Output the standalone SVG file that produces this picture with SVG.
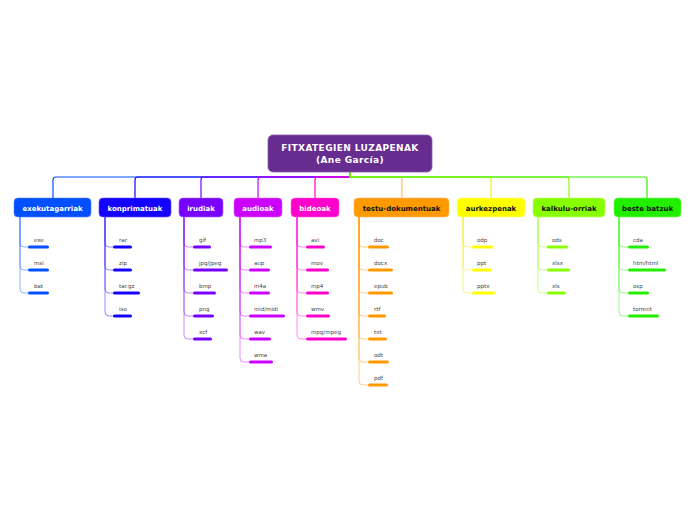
<svg xmlns="http://www.w3.org/2000/svg" width="696" height="520" viewBox="0 0 696 520">
<style>
.nt{font-family:"DejaVu Sans",Verdana,sans-serif;font-weight:bold;font-size:7px;text-anchor:middle}
.rt{font-family:"DejaVu Sans",Verdana,sans-serif;font-weight:bold;font-size:9px;letter-spacing:0.4px;text-anchor:middle;fill:#fff}
.lt{font-family:"DejaVu Sans",Verdana,sans-serif;font-size:5.5px;fill:#444}
.c{fill:none;stroke-width:1.2}
.lc{fill:none;stroke-width:1;stroke-opacity:0.45}
</style>
<rect width="696" height="520" fill="#fff"/>
<g id="connectors">
<path class="c" stroke="#0050ff" d="M350,172 V177 H56 Q53,177 53,180 V198"/>
<path class="c" stroke="#1400ff" d="M350,172 V177 H138 Q135,177 135,180 V198"/>
<path class="c" stroke="#7700ff" d="M350,172 V177 H204 Q201,177 201,180 V198"/>
<path class="c" stroke="#cc00ff" d="M350,172 V177 H261 Q258,177 258,180 V198"/>
<path class="c" stroke="#ff00cc" d="M350,172 V177 H318 Q315,177 315,180 V198"/>
<path class="c" stroke="#ffbb66" d="M350,172 V177 H399 Q402,177 402,180 V198"/>
<path class="c" stroke="#eeee22" d="M350,172 V177 H488 Q491,177 491,180 V198"/>
<path class="c" stroke="#88ff00" d="M350,172 V177 H566 Q569,177 569,180 V198"/>
<path class="c" stroke="#33ee00" d="M350,172 V177 H644 Q647,177 647,180 V198"/>
<path class="lc" stroke="#0050ff" d="M20,217 V243 Q20,247 24,247 H28 M20,217 V266 Q20,270 24,270 H28 M20,217 V289 Q20,293 24,293 H28"/>
<path class="lc" stroke="#1400ff" d="M105,217 V243 Q105,247 109,247 H113 M105,217 V266 Q105,270 109,270 H113 M105,217 V289 Q105,293 109,293 H113 M105,217 V312 Q105,316 109,316 H113"/>
<path class="lc" stroke="#7700ff" d="M184,217 V243 Q184,247 188,247 H193 M184,217 V266 Q184,270 188,270 H193 M184,217 V289 Q184,293 188,293 H193 M184,217 V312 Q184,316 188,316 H193 M184,217 V335 Q184,339 188,339 H193"/>
<path class="lc" stroke="#cc00ff" d="M240,217 V243 Q240,247 244,247 H249 M240,217 V266 Q240,270 244,270 H249 M240,217 V289 Q240,293 244,293 H249 M240,217 V312 Q240,316 244,316 H249 M240,217 V335 Q240,339 244,339 H249 M240,217 V358 Q240,362 244,362 H249"/>
<path class="lc" stroke="#ff00cc" d="M297,217 V243 Q297,247 301,247 H306 M297,217 V266 Q297,270 301,270 H306 M297,217 V289 Q297,293 301,293 H306 M297,217 V312 Q297,316 301,316 H306 M297,217 V335 Q297,339 301,339 H306"/>
<path class="lc" stroke="#ff9900" d="M359,217 V243 Q359,247 363,247 H368 M359,217 V266 Q359,270 363,270 H368 M359,217 V289 Q359,293 363,293 H368 M359,217 V312 Q359,316 363,316 H368 M359,217 V335 Q359,339 363,339 H368 M359,217 V358 Q359,362 363,362 H368 M359,217 V381 Q359,385 363,385 H368"/>
<path class="lc" stroke="#e6e600" d="M463,217 V243 Q463,247 467,247 H472 M463,217 V266 Q463,270 467,270 H472 M463,217 V289 Q463,293 467,293 H472"/>
<path class="lc" stroke="#88ff00" d="M538,217 V243 Q538,247 542,247 H547 M538,217 V266 Q538,270 542,270 H547 M538,217 V289 Q538,293 542,293 H547"/>
<path class="lc" stroke="#22ee00" d="M619,217 V243 Q619,247 623,247 H628 M619,217 V266 Q619,270 623,270 H628 M619,217 V289 Q619,293 623,293 H628 M619,217 V312 Q619,316 623,316 H628"/>
</g>
<g id="root">
<rect x="268" y="135" width="164" height="37" rx="5" fill="#672c8f" stroke="#8a5aae" stroke-width="0.8"/>
<text class="rt" x="350" y="151">FITXATEGIEN LUZAPENAK</text>
<text class="rt" x="350" y="163">(Ane García)</text>
</g>
<g id="exekutagarriak">
<rect x="14" y="198" width="77" height="19" rx="4" fill="#0050ff" stroke="#5588ff" stroke-width="0.6"/>
<text class="nt" x="52.5" y="210.5" fill="#fff">exekutagarriak</text>
<rect x="28" y="245.5" width="21" height="3" rx="1.5" fill="#0050ff"/><text class="lt" x="34" y="242">exe</text>
<rect x="28" y="268.5" width="21" height="3" rx="1.5" fill="#0050ff"/><text class="lt" x="34" y="265">msi</text>
<rect x="28" y="291.5" width="21" height="3" rx="1.5" fill="#0050ff"/><text class="lt" x="34" y="288">bat</text>
</g>
<g id="konprimatuak">
<rect x="99" y="198" width="72" height="19" rx="4" fill="#1400ff" stroke="#6655ff" stroke-width="0.6"/>
<text class="nt" x="135" y="210.5" fill="#fff">konprimatuak</text>
<rect x="113" y="245.5" width="19" height="3" rx="1.5" fill="#1400ff"/><text class="lt" x="119" y="242">rar</text>
<rect x="113" y="268.5" width="19" height="3" rx="1.5" fill="#1400ff"/><text class="lt" x="119" y="265">zip</text>
<rect x="113" y="291.5" width="27" height="3" rx="1.5" fill="#1400ff"/><text class="lt" x="119" y="288">tar.gz</text>
<rect x="113" y="314.5" width="19" height="3" rx="1.5" fill="#1400ff"/><text class="lt" x="119" y="311">iso</text>
</g>
<g id="irudiak">
<rect x="179" y="198" width="44" height="19" rx="4" fill="#7700ff" stroke="#a766ff" stroke-width="0.6"/>
<text class="nt" x="201" y="210.5" fill="#fff">irudiak</text>
<rect x="193" y="245.5" width="18" height="3" rx="1.5" fill="#7700ff"/><text class="lt" x="199" y="242">gif</text>
<rect x="193" y="268.5" width="35" height="3" rx="1.5" fill="#7700ff"/><text class="lt" x="199" y="265">jpg/jpeg</text>
<rect x="193" y="291.5" width="23" height="3" rx="1.5" fill="#7700ff"/><text class="lt" x="199" y="288">bmp</text>
<rect x="193" y="314.5" width="21" height="3" rx="1.5" fill="#7700ff"/><text class="lt" x="199" y="311">png</text>
<rect x="193" y="337.5" width="19" height="3" rx="1.5" fill="#7700ff"/><text class="lt" x="199" y="334">xcf</text>
</g>
<g id="audioak">
<rect x="234" y="198" width="48" height="19" rx="4" fill="#cc00ff" stroke="#dd66ff" stroke-width="0.6"/>
<text class="nt" x="258" y="210.5" fill="#fff">audioak</text>
<rect x="249" y="245.5" width="23" height="3" rx="1.5" fill="#cc00ff"/><text class="lt" x="254" y="242">mp3</text>
<rect x="249" y="268.5" width="21" height="3" rx="1.5" fill="#cc00ff"/><text class="lt" x="254" y="265">aup</text>
<rect x="249" y="291.5" width="21" height="3" rx="1.5" fill="#cc00ff"/><text class="lt" x="254" y="288">m4a</text>
<rect x="249" y="314.5" width="36" height="3" rx="1.5" fill="#cc00ff"/><text class="lt" x="254" y="311">mid/midi</text>
<rect x="249" y="337.5" width="22" height="3" rx="1.5" fill="#cc00ff"/><text class="lt" x="254" y="334">wav</text>
<rect x="249" y="360.5" width="24" height="3" rx="1.5" fill="#cc00ff"/><text class="lt" x="254" y="357">wma</text>
</g>
<g id="bideoak">
<rect x="291" y="198" width="48" height="19" rx="4" fill="#ff00cc" stroke="#ff66dd" stroke-width="0.6"/>
<text class="nt" x="315" y="210.5" fill="#fff">bideoak</text>
<rect x="306" y="245.5" width="19" height="3" rx="1.5" fill="#ff00cc"/><text class="lt" x="311" y="242">avi</text>
<rect x="306" y="268.5" width="23" height="3" rx="1.5" fill="#ff00cc"/><text class="lt" x="311" y="265">mov</text>
<rect x="306" y="291.5" width="23" height="3" rx="1.5" fill="#ff00cc"/><text class="lt" x="311" y="288">mp4</text>
<rect x="306" y="314.5" width="24" height="3" rx="1.5" fill="#ff00cc"/><text class="lt" x="311" y="311">wmv</text>
<rect x="306" y="337.5" width="41" height="3" rx="1.5" fill="#ff00cc"/><text class="lt" x="311" y="334">mpg/mpeg</text>
</g>
<g id="testu-dokumentuak">
<rect x="354" y="198" width="95" height="19" rx="4" fill="#ff9900" stroke="#ffbb66" stroke-width="0.6"/>
<text class="nt" x="401.5" y="210.5" fill="#111">testu-dokumentuak</text>
<rect x="368" y="245.5" width="21" height="3" rx="1.5" fill="#ff9900"/><text class="lt" x="374" y="242">doc</text>
<rect x="368" y="268.5" width="25" height="3" rx="1.5" fill="#ff9900"/><text class="lt" x="374" y="265">docx</text>
<rect x="368" y="291.5" width="25" height="3" rx="1.5" fill="#ff9900"/><text class="lt" x="374" y="288">epub</text>
<rect x="368" y="314.5" width="18" height="3" rx="1.5" fill="#ff9900"/><text class="lt" x="374" y="311">rtf</text>
<rect x="368" y="337.5" width="19" height="3" rx="1.5" fill="#ff9900"/><text class="lt" x="374" y="334">txt</text>
<rect x="368" y="360.5" width="21" height="3" rx="1.5" fill="#ff9900"/><text class="lt" x="374" y="357">odt</text>
<rect x="368" y="383.5" width="20" height="3" rx="1.5" fill="#ff9900"/><text class="lt" x="374" y="380">pdf</text>
</g>
<g id="aurkezpenak">
<rect x="457" y="198" width="68" height="19" rx="4" fill="#ffff00" stroke="#ffff88" stroke-width="0.6"/>
<text class="nt" x="491" y="210.5" fill="#111">aurkezpenak</text>
<rect x="472" y="245.5" width="21" height="3" rx="1.5" fill="#ffff00"/><text class="lt" x="477" y="242">odp</text>
<rect x="472" y="268.5" width="20" height="3" rx="1.5" fill="#ffff00"/><text class="lt" x="477" y="265">ppt</text>
<rect x="472" y="291.5" width="23" height="3" rx="1.5" fill="#ffff00"/><text class="lt" x="477" y="288">pptx</text>
</g>
<g id="kalkulu-orriak">
<rect x="533" y="198" width="72" height="19" rx="4" fill="#88ff00" stroke="#bbff66" stroke-width="0.6"/>
<text class="nt" x="569" y="210.5" fill="#111">kalkulu-orriak</text>
<rect x="547" y="245.5" width="21" height="3" rx="1.5" fill="#88ff00"/><text class="lt" x="552" y="242">ods</text>
<rect x="547" y="268.5" width="23" height="3" rx="1.5" fill="#88ff00"/><text class="lt" x="552" y="265">xlsx</text>
<rect x="547" y="291.5" width="19" height="3" rx="1.5" fill="#88ff00"/><text class="lt" x="552" y="288">xls</text>
</g>
<g id="beste-batzuk">
<rect x="614" y="198" width="67" height="19" rx="4" fill="#22ee00" stroke="#77ff55" stroke-width="0.6"/>
<text class="nt" x="647.5" y="210.5" fill="#111">beste batzuk</text>
<rect x="628" y="245.5" width="21" height="3" rx="1.5" fill="#22ee00"/><text class="lt" x="633" y="242">cda</text>
<rect x="628" y="268.5" width="38" height="3" rx="1.5" fill="#22ee00"/><text class="lt" x="633" y="265">htm/html</text>
<rect x="628" y="291.5" width="21" height="3" rx="1.5" fill="#22ee00"/><text class="lt" x="633" y="288">osp</text>
<rect x="628" y="314.5" width="31" height="3" rx="1.5" fill="#22ee00"/><text class="lt" x="633" y="311">torrent</text>
</g>
</svg>
